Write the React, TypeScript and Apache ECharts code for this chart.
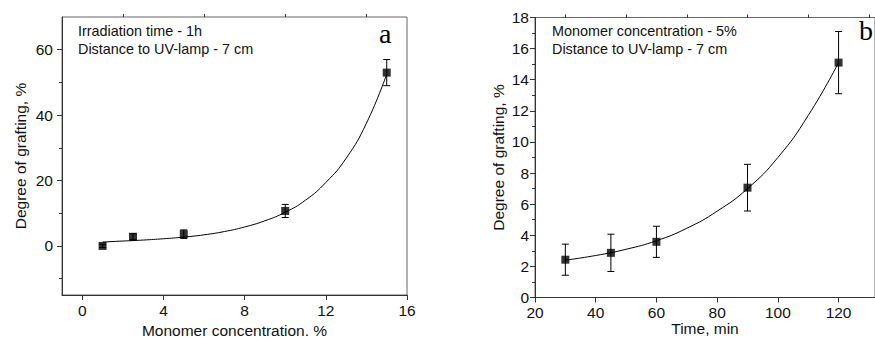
import React, { useEffect, useRef } from "react";
import * as echarts from "echarts";

// Panel a: degree of grafting vs monomer concentration
const aConc = [1, 2.5, 5, 10, 15];
const aGraft = [0, 2.8, 3.6, 10.7, 53];
const aErr = [0.5, 0.9, 1.3, 2.0, 4.0];
const aFitX = [1, 2, 3, 4, 5, 6, 7, 8, 9, 10, 11, 12, 13, 14, 15];
const aFitY = [1.2, 1.5, 1.8, 2.2, 2.7, 3.4, 4.4, 5.8, 7.7, 10.3, 14, 19.4, 26.8, 37.5, 52.5];
const aXLabels = [0, 4, 8, 12, 16];
const aXMinor = [2, 6, 10, 14];
const aYLabels = [0, 20, 40, 60];
const aYMinor = [-10, 10, 30, 50];

// Panel b: degree of grafting vs time
const bTime = [30, 45, 60, 90, 120];
const bGraft = [2.43, 2.87, 3.58, 7.06, 15.1];
const bErr = [1.0, 1.2, 1.0, 1.5, 2.0];
const bFitX = [30, 40, 50, 60, 70, 80, 90, 100, 110, 120];
const bFitY = [2.4, 2.7, 3.1, 3.65, 4.45, 5.55, 7.0, 9.0, 11.7, 15.1];
const bXLabels = [20, 40, 60, 80, 100, 120];
const bXMinor = [30, 50, 70, 90, 110, 130];
const bYLabels = [0, 2, 4, 6, 8, 10, 12, 14, 16, 18];
const bYMinor = [1, 3, 5, 7, 9, 11, 13, 15, 17];

const FONT = "Liberation Sans, Arial, sans-serif";
const AX = "#333";

function errorSeries(xs: number[], ys: number[], es: number[], xi: number, yi: number) {
  return {
    type: "custom",
    xAxisIndex: xi,
    yAxisIndex: yi,
    silent: true,
    z: 3,
    data: xs.map((x, i) => [x, ys[i] - es[i], ys[i] + es[i]]),
    renderItem: (params: any, api: any) => {
      const lo = api.coord([api.value(0), api.value(1)]);
      const hi = api.coord([api.value(0), api.value(2)]);
      const w = 3.5;
      const st = { stroke: "#000", lineWidth: 1 };
      return {
        type: "group",
        children: [
          { type: "line", shape: { x1: lo[0], y1: lo[1], x2: hi[0], y2: hi[1] }, style: st },
          { type: "line", shape: { x1: lo[0] - w, y1: lo[1], x2: lo[0] + w, y2: lo[1] }, style: st },
          { type: "line", shape: { x1: hi[0] - w, y1: hi[1], x2: hi[0] + w, y2: hi[1] }, style: st },
        ],
      };
    },
  };
}

export default function App() {
  const ref = useRef<HTMLDivElement>(null);
  useEffect(() => {
    if (!ref.current) return;
    const chart = echarts.init(ref.current, null, { renderer: "svg" });
    const labelStyle = { fontFamily: FONT, fontSize: 15.5, color: "#111" };
    const nameStyle = { fontFamily: FONT, fontSize: 15.5, color: "#111", lineHeight: 16 };
    const majorX = (gi: number, min: number, max: number, labels: number[], name: string, gap: number) => ({
      type: "value",
      gridIndex: gi,
      min,
      max,
      name,
      nameLocation: "middle",
      nameGap: gap,
      nameMoveOverlap: false,
      nameTextStyle: nameStyle,
      splitLine: { show: false },
      axisLine: { show: true, onZero: false, lineStyle: { color: AX, width: 1 } },
      axisTick: { show: true, inside: false, length: 5, customValues: labels, lineStyle: { color: AX } },
      axisLabel: { show: true, customValues: labels, margin: 7, ...labelStyle },
    });
    const minorX = (gi: number, min: number, max: number, ticks: number[]) => ({
      type: "value",
      gridIndex: gi,
      min,
      max,
      splitLine: { show: false },
      axisLine: { show: false, onZero: false },
      axisTick: { show: true, inside: false, length: 3, customValues: ticks, lineStyle: { color: AX } },
      axisLabel: { show: false },
    });
    const majorY = (gi: number, min: number, max: number, labels: number[], name: string, gap: number, margin: number) => ({
      type: "value",
      gridIndex: gi,
      min,
      max,
      name,
      nameLocation: "middle",
      nameGap: gap,
      nameMoveOverlap: false,
      nameTextStyle: nameStyle,
      splitLine: { show: false },
      axisLine: { show: true, onZero: false, lineStyle: { color: AX, width: 1 } },
      axisTick: { show: true, inside: false, length: 5, customValues: labels, lineStyle: { color: AX } },
      axisLabel: { show: true, customValues: labels, margin, ...labelStyle },
    });
    const minorY = (gi: number, min: number, max: number, ticks: number[]) => ({
      type: "value",
      gridIndex: gi,
      min,
      max,
      position: "left",
      splitLine: { show: false },
      axisLine: { show: false, onZero: false },
      axisTick: { show: true, inside: false, length: 3, customValues: ticks, lineStyle: { color: AX } },
      axisLabel: { show: false },
    });

    chart.setOption({
      animation: false,
      backgroundColor: "#fff",
      grid: [
        { left: 62, top: 17, right: 468, bottom: 43, show: true, borderColor: "#666", borderWidth: 1, backgroundColor: "transparent", containLabel: false, outerBoundsMode: "none" },
        { left: 535, top: 17.5, right: 0, bottom: 40.5, show: true, borderColor: "#666", borderWidth: 1, backgroundColor: "transparent", containLabel: false, outerBoundsMode: "none" },
      ],
      xAxis: [
        majorX(0, -1, 16, aXLabels, "Monomer concentration. %", 27),
        minorX(0, -1, 16, aXMinor),
        majorX(1, 20, 132, bXLabels, "Time, min", 23),
        minorX(1, 20, 132, bXMinor),
      ],
      yAxis: [
        majorY(0, -15, 70, aYLabels, "Degree of grafting, %", 34, 9),
        minorY(0, -15, 70, aYMinor),
        majorY(1, 0, 18, bYLabels, "Degree of grafting, %", 29, 6),
        minorY(1, 0, 18, bYMinor),
      ],
      series: [
        {
          type: "line",
          xAxisIndex: 0,
          yAxisIndex: 0,
          data: aFitX.map((x, i) => [x, aFitY[i]]),
          smooth: 0.5,
          showSymbol: false,
          lineStyle: { color: "#000", width: 1 },
          z: 2,
        },
        errorSeries(aConc, aGraft, aErr, 0, 0),
        {
          type: "scatter",
          xAxisIndex: 0,
          yAxisIndex: 0,
          data: aConc.map((x, i) => [x, aGraft[i]]),
          symbol: "rect",
          symbolSize: 8,
          itemStyle: { color: "#000" },
          z: 4,
        },
        {
          type: "line",
          xAxisIndex: 2,
          yAxisIndex: 2,
          data: bFitX.map((x, i) => [x, bFitY[i]]),
          smooth: 0.5,
          showSymbol: false,
          lineStyle: { color: "#000", width: 1 },
          z: 2,
        },
        errorSeries(bTime, bGraft, bErr, 2, 2),
        {
          type: "scatter",
          xAxisIndex: 2,
          yAxisIndex: 2,
          data: bTime.map((x, i) => [x, bGraft[i]]),
          symbol: "rect",
          symbolSize: 8,
          itemStyle: { color: "#000" },
          z: 4,
        },
      ],
      graphic: [
        { type: "text", x: 78, y: 24, style: { text: "Irradiation time - 1h", font: `14.4px ${FONT}`, fill: "#111" } },
        { type: "text", x: 78, y: 42, style: { text: "Distance to UV-lamp - 7 cm", font: `14.4px ${FONT}`, fill: "#111" } },
        { type: "text", x: 379, y: 19, style: { text: "a", font: `28px Liberation Serif, Times New Roman, serif`, fill: "#000" } },
        { type: "text", x: 552, y: 24, style: { text: "Monomer concentration - 5%", font: `14.4px ${FONT}`, fill: "#111" } },
        { type: "text", x: 552, y: 42, style: { text: "Distance to UV-lamp - 7 cm", font: `14.4px ${FONT}`, fill: "#111" } },
        { type: "text", x: 859, y: 16, style: { text: "b", font: `28px Liberation Serif, Times New Roman, serif`, fill: "#000" } },
      ],
    });
    return () => chart.dispose();
  }, []);
  return <div ref={ref} style={{ width: 875, height: 338, position: "absolute", left: 0, top: 0 }} />;
}
